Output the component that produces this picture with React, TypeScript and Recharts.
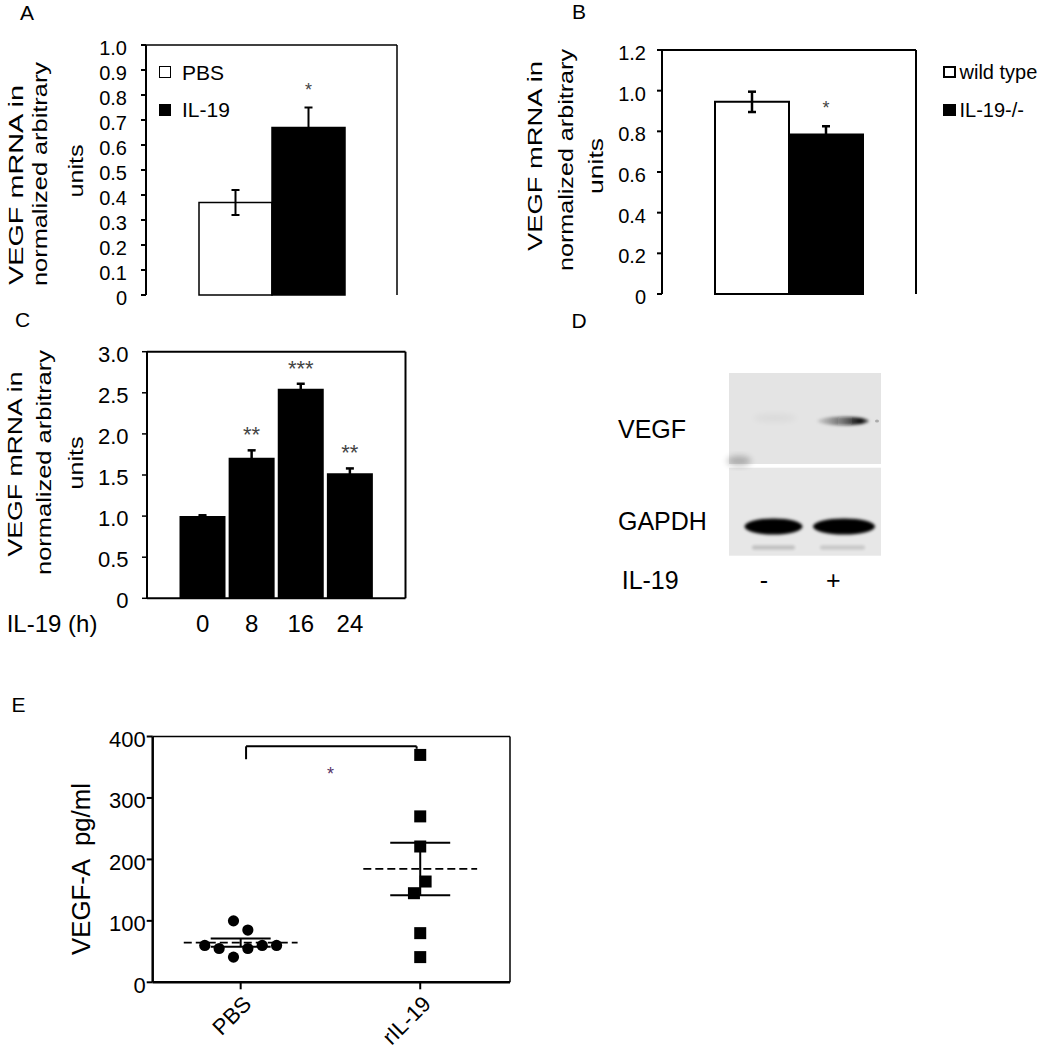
import React from 'react'
import {
  BarChart,
  Bar,
  XAxis,
  YAxis,
  ErrorBar,
  LabelList,
  ReferenceLine,
  ReferenceDot,
  Legend,
  ComposedChart,
  Scatter,
  CartesianGrid,
} from 'recharts'

const FONT = "'Liberation Sans', Arial, Helvetica, sans-serif"

// panel A - VEGF mRNA, PBS vs IL-19
const A_GROUPS = ['PBS', 'IL-19']
const A_MEANS = [0.37, 0.67]
const A_ERRORS = [0.05, 0.08]
const A_SIG = ['', '*']
const A_COLORS = ['#ffffff', '#000000']
const A_TICKS = [0, 0.1, 0.2, 0.3, 0.4, 0.5, 0.6, 0.7, 0.8, 0.9, 1.0]

// panel B - wild type vs knockout
const B_GROUPS = ['wild type', 'IL-19-/-']
const B_MEANS = [0.945, 0.785]
const B_ERRORS = [0.05, 0.04]
const B_SIG = ['', '*']
const B_COLORS = ['#ffffff', '#000000']
const B_TICKS = [0, 0.2, 0.4, 0.6, 0.8, 1.0, 1.2]

// panel C - time course
const C_HOURS = ['0', '8', '16', '24']
const C_MEANS = [1.0, 1.71, 2.55, 1.52]
const C_ERRORS = [0.01, 0.09, 0.06, 0.06]
const C_SIG = ['', '**', '***', '**']
const C_TICKS = [0, 0.5, 1.0, 1.5, 2.0, 2.5, 3.0]

// panel E - VEGF-A protein, scatter
const E_GROUPS = ['PBS', 'rIL-19']
const E_PBS = [60, 55, 100, 41, 85, 55, 60, 60]
const E_PBS_JITTER = [-0.2, -0.12, -0.04, -0.04, 0.04, 0.04, 0.12, 0.2]
const E_RIL = [370, 270, 221, 164, 145, 80, 41]
const E_RIL_JITTER = [0, 0, 0, 0.03, -0.035, 0, 0]
const E_TICKS = [0, 100, 200, 300, 400]
const E_BRACKET = { from: 1.03, to: 1.98, top: 384, leftEnd: 363, rightEnd: 380 }
const E_STAR = { x: 1.5, y: 345, text: '*' }

const fmt1 = (v: number) => (v === 0 ? '0' : v.toFixed(1))

function yTick(fontSize: number, format: (v: number) => string, dy = 3) {
  return (p: any) => (
    <text
      x={p.x}
      y={p.y + dy}
      textAnchor="end"
      dominantBaseline="central"
      fontSize={fontSize}
      fill="#000"
    >
      {format(p.payload.value)}
    </text>
  )
}

// top + right edges of the plot box, taken from the chart's own offset
function FrameGrid({ width }: { width: number }) {
  return (
    <CartesianGrid
      stroke="#000"
      strokeWidth={width}
      strokeDasharray=""
      horizontalCoordinatesGenerator={({ offset }: any) => [offset.top]}
      verticalCoordinatesGenerator={({ offset }: any) => [offset.left + offset.width]}
    />
  )
}

type TitleLine = { text: string; x: number; y: number; len: number }

function AxisTitle({ lines, fontSize }: { lines: TitleLine[]; fontSize: number }) {
  return (
    <g>
      {lines.map((l) => (
        <text
          key={l.text}
          x={l.x}
          y={l.y}
          transform={`rotate(-90 ${l.x} ${l.y})`}
          textAnchor="middle"
          fontSize={fontSize}
          fill="#000"
          textLength={l.len}
          lengthAdjust="spacingAndGlyphs"
          style={{ whiteSpace: 'pre' }}
        >
          {l.text}
        </text>
      ))}
    </g>
  )
}

// label at a fixed spot; props named so Label's own x/y don't override them
function SideLabel({ caption, px, py, size }: { caption: string; px: number; py: number; size: number }) {
  return (
    <text x={px} y={py} fontSize={size} fill="#000">
      {caption}
    </text>
  )
}

function starContent(means: number[], errs: number[], fontSize: number, gap: number) {
  return (p: any) => {
    const vb = p.viewBox && p.viewBox.width !== undefined ? p.viewBox : p
    const { x, y, width, height } = vb
    const i = p.index ?? 0
    if (!p.value) return null
    const perUnit = Math.abs(height) / means[i]
    const top = Math.min(y, y + height) - errs[i] * perUnit
    return (
      <text x={x + width / 2} y={top - gap} textAnchor="middle" fontSize={fontSize} fill="#444">
        {p.value}
      </text>
    )
  }
}

function SwatchLegend({
  names,
  fills,
  border,
  fontSize,
  pitch,
  gap,
  size,
}: {
  names: string[]
  fills: string[]
  border: number
  fontSize: number
  pitch: number
  gap: number
  size: [number, number]
}) {
  return (
    <div style={{ display: 'flex', flexDirection: 'column', fontFamily: FONT }}>
      {names.map((n, i) => (
        <div key={n} style={{ display: 'flex', alignItems: 'center', height: pitch }}>
          <span
            style={{
              display: 'inline-block',
              width: size[0],
              height: size[1],
              boxSizing: 'border-box',
              border: `${border}px solid #000`,
              background: fills[i],
            }}
          />
          <span style={{ marginLeft: gap, fontSize, lineHeight: 1, color: '#000', whiteSpace: 'nowrap' }}>
            {n}
          </span>
        </div>
      ))}
    </div>
  )
}

const A_TITLE: TitleLine[] = [
  { text: 'VEGF mRNA in', x: 23, y: 185, len: 200 },
  { text: 'normalized arbitrary', x: 46.5, y: 174, len: 224 },
  { text: 'units', x: 83, y: 171, len: 53 },
]

const B_TITLE: TitleLine[] = [
  { text: 'VEGF mRNA in', x: 62, y: 156, len: 190 },
  { text: 'normalized arbitrary', x: 92.5, y: 160, len: 222 },
  { text: 'units', x: 123, y: 166, len: 56 },
]

const C_TITLE: TitleLine[] = [
  { text: 'VEGF mRNA in', x: 22, y: 154, len: 185 },
  { text: 'normalized arbitrary', x: 51, y: 152.5, len: 225 },
  { text: 'units', x: 83, y: 153, len: 53 },
]

const E_TITLE: TitleLine[] = [{ text: 'VEGF-A  pg/ml', x: 89.5, y: 179, len: 172 }]

function groupRow(means: number[], errs: number[], sig: string[]) {
  const row: Record<string, string | number> = { name: '' }
  means.forEach((m, i) => {
    row[`v${i}`] = m
    row[`e${i}`] = errs[i]
    row[`s${i}`] = sig[i]
  })
  return [row]
}

function PanelA() {
  const data = groupRow(A_MEANS, A_ERRORS, A_SIG)
  return (
    <div style={{ position: 'absolute', left: 0, top: 0 }}>
      <BarChart
        width={420}
        height={320}
        data={data}
        margin={{ top: 45, right: 23, bottom: 25, left: 0 }}
        barCategoryGap={53}
        barGap={0}
      >
        {FrameGrid({ width: 1.5 })}
        <XAxis dataKey="name" height={0} tick={false} tickLine={false} axisLine={{ stroke: '#000', strokeWidth: 2 }} />
        <YAxis
          domain={[0, 1]}
          ticks={A_TICKS}
          interval={0}
          width={146}
          tickSize={5}
          tickMargin={14}
          tick={yTick(20, fmt1, 3)}
          tickLine={{ stroke: '#000', strokeWidth: 2 }}
          axisLine={{ stroke: '#000', strokeWidth: 2 }}
          label={<AxisTitle fontSize={20} lines={A_TITLE} />}
        />
        {A_GROUPS.map((g, i) => (
          <Bar
            key={g}
            dataKey={`v${i}`}
            name={g}
            fill={A_COLORS[i]}
            stroke="#000"
            strokeWidth={1.5}
            isAnimationActive={false}
          >
            <ErrorBar dataKey={`e${i}`} width={4} stroke="#000" strokeWidth={2} />
            <LabelList dataKey={`s${i}`} content={starContent([A_MEANS[i]], [A_ERRORS[i]], 18, 12)} />
          </Bar>
        ))}
        <Legend
          layout="vertical"
          align="center"
          verticalAlign="middle"
          wrapperStyle={{ left: 159, top: 53.5, width: 150, height: 80 }}
          content={() => (
            <SwatchLegend
              names={A_GROUPS}
              fills={A_COLORS}
              border={1.5}
              fontSize={21}
              pitch={37.5}
              gap={11}
              size={[12, 12]}
            />
          )}
        />
      </BarChart>
    </div>
  )
}

function PanelB() {
  const data = groupRow(B_MEANS, B_ERRORS, B_SIG)
  return (
    <div style={{ position: 'absolute', left: 480, top: 0 }}>
      <BarChart
        width={565}
        height={320}
        data={data}
        margin={{ top: 50, right: 129, bottom: 26, left: 0 }}
        barCategoryGap={53}
        barGap={0}
      >
        {FrameGrid({ width: 2 })}
        <XAxis dataKey="name" height={0} tick={false} tickLine={false} axisLine={{ stroke: '#000', strokeWidth: 3 }} />
        <YAxis
          domain={[0, 1.2]}
          ticks={B_TICKS}
          interval={0}
          width={182}
          tickSize={5}
          tickMargin={11}
          tick={yTick(20, fmt1, 3)}
          tickLine={{ stroke: '#000', strokeWidth: 2 }}
          axisLine={{ stroke: '#000', strokeWidth: 2 }}
          label={<AxisTitle fontSize={20} lines={B_TITLE} />}
        />
        {B_GROUPS.map((g, i) => (
          <Bar
            key={g}
            dataKey={`v${i}`}
            name={g}
            fill={B_COLORS[i]}
            stroke="#000"
            strokeWidth={2}
            isAnimationActive={false}
          >
            <ErrorBar dataKey={`e${i}`} width={4} stroke="#000" strokeWidth={2.5} />
            <LabelList dataKey={`s${i}`} content={starContent([B_MEANS[i]], [B_ERRORS[i]], 18, 12)} />
          </Bar>
        ))}
        <Legend
          layout="vertical"
          align="center"
          verticalAlign="middle"
          wrapperStyle={{ left: 462.5, top: 53, width: 110, height: 80 }}
          content={() => (
            <SwatchLegend
              names={B_GROUPS}
              fills={B_COLORS}
              border={2}
              fontSize={20}
              pitch={38}
              gap={4}
              size={[13, 12]}
            />
          )}
        />
      </BarChart>
    </div>
  )
}

function PanelC() {
  const data = C_HOURS.map((h, i) => ({ name: h, mean: C_MEANS[i], err: C_ERRORS[i], sig: C_SIG[i] }))
  return (
    <div style={{ position: 'absolute', left: 0, top: 310 }}>
      <BarChart
        width={420}
        height={340}
        data={data}
        margin={{ top: 41.7, right: 14.5, bottom: 11.7, left: 0 }}
        barCategoryGap={1.5}
      >
        {FrameGrid({ width: 2 })}
        <XAxis
          dataKey="name"
          height={40}
          padding={{ left: 31, right: 31 }}
          tickSize={0}
          tickMargin={0}
          tickLine={false}
          interval={0}
          axisLine={{ stroke: '#000', strokeWidth: 2 }}
          tick={(p: any) => (
            <text x={p.x} y={p.y + 33.4} textAnchor="middle" fontSize={24} fill="#000">
              {p.payload.value}
            </text>
          )}
          label={<SideLabel caption="IL-19 (h)" px={6.7} py={321.7} size={24} />}
        />
        <YAxis
          domain={[0, 3]}
          ticks={C_TICKS}
          interval={0}
          width={147}
          tickSize={5}
          tickMargin={13.5}
          tick={yTick(22, fmt1, 2.5)}
          tickLine={{ stroke: '#000', strokeWidth: 1.5 }}
          axisLine={{ stroke: '#000', strokeWidth: 2 }}
          label={<AxisTitle fontSize={21} lines={C_TITLE} />}
        />
        <Bar dataKey="mean" fill="#000" isAnimationActive={false}>
          <ErrorBar dataKey="err" width={4} stroke="#000" strokeWidth={2.5} />
          <LabelList dataKey="sig" content={starContent(C_MEANS, C_ERRORS, 22, 8)} />
        </Bar>
      </BarChart>
    </div>
  )
}

function meanSem(values: number[]) {
  const n = values.length
  const mean = values.reduce((a, b) => a + b, 0) / n
  const sd = Math.sqrt(values.reduce((a, v) => a + (v - mean) ** 2, 0) / (n - 1))
  return { mean, sem: sd / Math.sqrt(n) }
}

const circleShape = (p: any) => <circle cx={p.cx} cy={p.cy} r={5.6} fill="#000" />
const squareShape = (p: any) => <rect x={p.cx - 6} y={p.cy - 6} width={12} height={12} fill="#000" />

function PanelE() {
  const pbs = E_PBS.map((v, i) => ({ x: 1 + E_PBS_JITTER[i], y: v }))
  const ril = E_RIL.map((v, i) => ({ x: 2 + E_RIL_JITTER[i], y: v }))
  const stats = [meanSem(E_PBS), meanSem(E_RIL)]
  const meanHalf = 0.317
  const capHalf = 0.167

  return (
    <div style={{ position: 'absolute', left: 0, top: 690 }}>
      <ComposedChart width={540} height={360} margin={{ top: 46.5, right: 30, bottom: 0, left: 0 }}>
        <XAxis
          type="number"
          dataKey="x"
          domain={[0.51, 2.5]}
          ticks={[1, 2]}
          allowDataOverflow
          height={67.7}
          tickSize={7}
          tickMargin={0}
          tickLine={{ stroke: '#000', strokeWidth: 2 }}
          axisLine={{ stroke: '#000', strokeWidth: 2.5 }}
          tick={(p: any) => {
            const tx = p.x + 12
            const ty = p.y + 16
            return (
              <text
                x={tx}
                y={ty}
                transform={`rotate(-45 ${tx} ${ty})`}
                textAnchor="end"
                fontSize={22}
                fill="#000"
              >
                {E_GROUPS[p.payload.value - 1]}
              </text>
            )
          }}
        />
        <YAxis
          type="number"
          dataKey="y"
          domain={[0, 400]}
          ticks={E_TICKS}
          interval={0}
          width={152.7}
          tickSize={6}
          tickMargin={1}
          tick={yTick(22, (v) => String(v), 3)}
          tickLine={{ stroke: '#000', strokeWidth: 2 }}
          axisLine={{ stroke: '#000', strokeWidth: 2.5 }}
          label={<AxisTitle fontSize={26} lines={E_TITLE} />}
        />
        <ReferenceLine y={400} stroke="#000" strokeWidth={1.5} />
        <ReferenceLine x={2.5} stroke="#000" strokeWidth={1.5} />

        {stats.map((s, i) => {
          const cx = i + 1
          return (
            <React.Fragment key={E_GROUPS[i]}>
              <ReferenceLine
                segment={[
                  { x: cx - meanHalf, y: s.mean },
                  { x: cx + meanHalf, y: s.mean },
                ]}
                stroke="#000"
                strokeWidth={1.8}
                strokeDasharray="8 4"
              />
              <ReferenceLine
                segment={[
                  { x: cx - capHalf, y: s.mean + s.sem },
                  { x: cx + capHalf, y: s.mean + s.sem },
                ]}
                stroke="#000"
                strokeWidth={2}
              />
              <ReferenceLine
                segment={[
                  { x: cx - capHalf, y: s.mean - s.sem },
                  { x: cx + capHalf, y: s.mean - s.sem },
                ]}
                stroke="#000"
                strokeWidth={2}
              />
              <ReferenceLine
                segment={[
                  { x: cx, y: s.mean - s.sem },
                  { x: cx, y: s.mean + s.sem },
                ]}
                stroke="#000"
                strokeWidth={2}
              />
            </React.Fragment>
          )
        })}

        <ReferenceLine
          segment={[
            { x: E_BRACKET.from, y: E_BRACKET.top },
            { x: E_BRACKET.to, y: E_BRACKET.top },
          ]}
          stroke="#000"
          strokeWidth={2}
        />
        <ReferenceLine
          segment={[
            { x: E_BRACKET.from, y: E_BRACKET.top },
            { x: E_BRACKET.from, y: E_BRACKET.leftEnd },
          ]}
          stroke="#000"
          strokeWidth={2}
        />
        <ReferenceLine
          segment={[
            { x: E_BRACKET.to, y: E_BRACKET.top },
            { x: E_BRACKET.to, y: E_BRACKET.rightEnd },
          ]}
          stroke="#000"
          strokeWidth={2}
        />
        <ReferenceDot
          x={E_STAR.x}
          y={E_STAR.y}
          r={0}
          shape={(p: any) => (
            <text x={p.cx} y={p.cy + 10} textAnchor="middle" fontSize={18} fill="#553366">
              {E_STAR.text}
            </text>
          )}
        />

        <Scatter name={E_GROUPS[0]} data={pbs} shape={circleShape} isAnimationActive={false} />
        <Scatter name={E_GROUPS[1]} data={ril} shape={squareShape} isAnimationActive={false} />
      </ComposedChart>
    </div>
  )
}

function PanelD() {
  return (
    <svg
      width={300}
      height={250}
      style={{ position: 'absolute', left: 600, top: 360 }}
      fontFamily={FONT}
    >
      <defs>
        <filter id="blotBlur1" x="-50%" y="-50%" width="200%" height="200%">
          <feGaussianBlur stdDeviation="1.6" />
        </filter>
        <filter id="blotBlur3" x="-50%" y="-50%" width="200%" height="200%">
          <feGaussianBlur stdDeviation="3" />
        </filter>
        <linearGradient id="vegfBand" x1="0" x2="1" y1="0" y2="0">
          <stop offset="0" stopColor="#000" stopOpacity="0.08" />
          <stop offset="0.5" stopColor="#111" stopOpacity="0.55" />
          <stop offset="0.85" stopColor="#000" stopOpacity="0.95" />
          <stop offset="1" stopColor="#000" stopOpacity="0.5" />
        </linearGradient>
      </defs>
      <rect x={129} y={13} width={152} height={91} fill="#e4e4e4" />
      <rect x={129} y={107.7} width={152} height={88} fill="#e7e7e7" />
      {/* faint lane-1 VEGF signal and corner smudge */}
      <ellipse cx={175} cy={58} rx={22} ry={4} fill="#000" opacity={0.04} filter="url(#blotBlur3)" />
      <ellipse cx={139} cy={101} rx={12} ry={5} fill="#000" opacity={0.25} filter="url(#blotBlur3)" />
      <ellipse cx={243} cy={61} rx={26} ry={4.2} fill="url(#vegfBand)" filter="url(#blotBlur1)" />
      <ellipse cx={277} cy={61} rx={2} ry={1.5} fill="#000" opacity={0.25} />
      {/* GAPDH */}
      <ellipse cx={173.5} cy={166.5} rx={29} ry={8} fill="#050505" filter="url(#blotBlur1)" />
      <ellipse cx={244} cy={166.5} rx={31} ry={8} fill="#050505" filter="url(#blotBlur1)" />
      <rect x={152} y={185.5} width={43} height={4} rx={2} fill="#000" opacity={0.18} filter="url(#blotBlur1)" />
      <rect x={220} y={185.5} width={45} height={4} rx={2} fill="#000" opacity={0.14} filter="url(#blotBlur1)" />

      <text x={18} y={78.3} fontSize={25} fill="#000">VEGF</text>
      <text x={18} y={170} fontSize={25} fill="#000">GAPDH</text>
      <text x={21.7} y={229.3} fontSize={25} fill="#000">IL-19</text>
      <text x={164} y={229.3} fontSize={25} fill="#000" textAnchor="middle">-</text>
      <text x={233.3} y={229.3} fontSize={25} fill="#000" textAnchor="middle">+</text>
    </svg>
  )
}

const PANEL_LETTERS = [
  { t: 'A', x: 20, y: 20 },
  { t: 'B', x: 572, y: 18.5 },
  { t: 'C', x: 15, y: 327 },
  { t: 'D', x: 571.5, y: 328 },
  { t: 'E', x: 11.5, y: 712 },
]

export default function App() {
  return (
    <div
      style={{
        position: 'relative',
        width: 1045,
        height: 1050,
        background: '#fff',
        fontFamily: FONT,
        overflow: 'hidden',
      }}
    >
      <style>{`body{margin:0;background:#fff}`}</style>
      <PanelA />
      <PanelB />
      <PanelC />
      <PanelD />
      <PanelE />
      <svg
        width={1045}
        height={1050}
        style={{ position: 'absolute', left: 0, top: 0, pointerEvents: 'none' }}
        fontFamily={FONT}
      >
        {PANEL_LETTERS.map((l) => (
          <text key={l.t} x={l.x} y={l.y} fontSize={21} fill="#000">
            {l.t}
          </text>
        ))}
      </svg>
    </div>
  )
}
